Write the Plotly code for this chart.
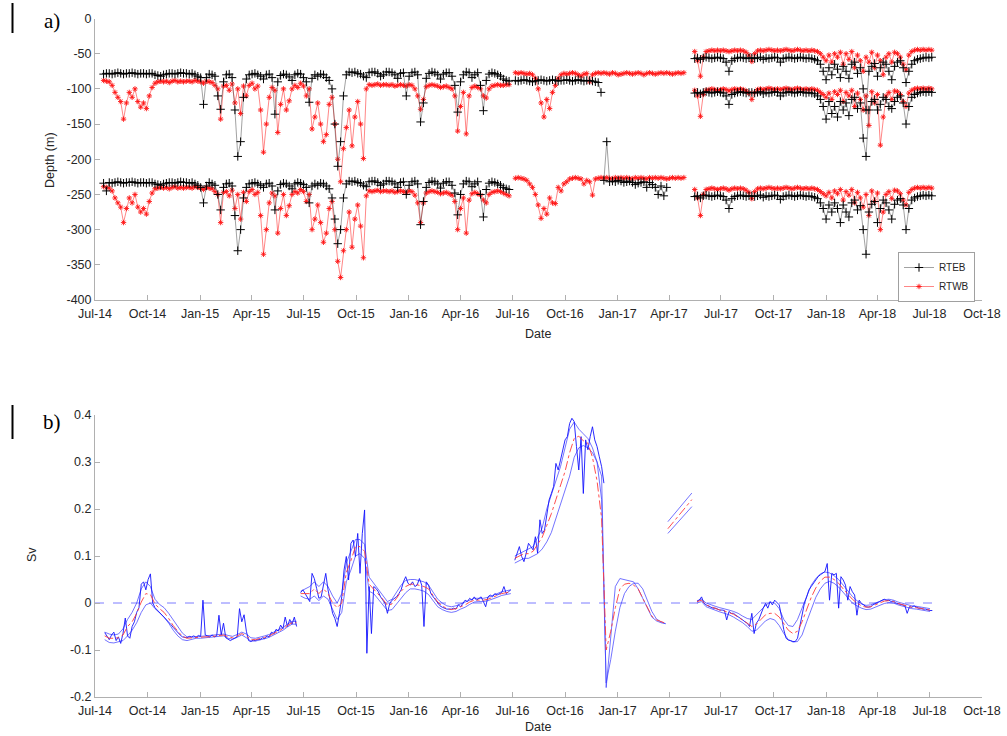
import pandas as pd
import plotly.graph_objects as go

# ---------------- data : panel a (depth, m) ----------------
# deployment 1, 5-day samples from 2014-07-16
D1_START = "2014-07-16"
rteb_up_d1 = [-79,-78,-78,-79,-78,-77,-78,-79,-78,-78,
 -77,-78,-79,-78,-78,-79,-78,-78,-80,-81,
 -82,-80,-79,-78,-78,-79,-78,-77,-78,-78,
 -79,-78,-80,-82,-84,-122,-84,-79,-80,-82,
 -110,-129,-90,-80,-79,-84,-130,-196,-175,-112,
 -86,-80,-79,-78,-80,-82,-86,-80,-79,-84,
 -136,-90,-81,-79,-80,-83,-88,-80,-78,-79,
 -84,-90,-119,-85,-80,-82,-79,-80,-84,-88,
 -100,-150,-210,-175,-110,-80,-76,-77,-76,-78,
 -79,-82,-84,-77,-76,-76,-78,-82,-80,-76,
 -76,-77,-80,-85,-78,-77,-110,-82,-77,-76,
 -80,-147,-120,-85,-78,-76,-77,-80,-86,-79,
 -77,-77,-82,-95,-133,-90,-80,-76,-77,-84,
 -80,-77,-95,-131,-88,-79,-77,-78,-80,-82,
 -86,-88,-89]
rtwb_up_d1 = [-88,-89,-90,-95,-105,-112,-118,-143,-120,-105,
 -112,-100,-118,-126,-120,-128,-110,-98,-92,-90,
 -89,-90,-89,-91,-89,-88,-90,-89,-90,-89,
 -89,-90,-88,-89,-90,-92,-89,-90,-91,-95,
 -100,-143,-96,-95,-102,-93,-120,-100,-135,-96,
 -110,-95,-92,-100,-96,-130,-190,-150,-112,-98,
 -102,-162,-122,-100,-130,-117,-100,-95,-98,-92,
 -96,-110,-100,-157,-140,-120,-150,-175,-165,-122,
 -112,-150,-200,-232,-185,-155,-130,-181,-140,-118,
 -150,-199,-100,-94,-95,-94,-93,-95,-94,-94,
 -95,-94,-96,-95,-94,-95,-96,-94,-95,-100,
 -110,-129,-115,-97,-95,-94,-95,-96,-98,-97,
 -96,-98,-100,-110,-160,-125,-105,-164,-110,-98,
 -96,-98,-100,-110,-113,-100,-96,-95,-94,-95,
 -95,-94,-94]
rteb_lo_d1 = [-234,-245,-233,-234,-233,-232,-233,-234,-233,-233,
 -232,-233,-234,-233,-233,-234,-233,-233,-235,-236,
 -237,-235,-234,-233,-233,-234,-233,-232,-233,-233,
 -234,-233,-235,-237,-240,-262,-238,-233,-235,-237,
 -250,-272,-240,-235,-234,-238,-280,-330,-300,-255,
 -240,-235,-234,-233,-235,-237,-240,-235,-234,-238,
 -272,-245,-236,-234,-235,-238,-242,-235,-233,-234,
 -236,-240,-262,-238,-235,-237,-234,-235,-238,-242,
 -255,-285,-320,-300,-255,-235,-231,-232,-231,-233,
 -234,-237,-239,-232,-231,-231,-233,-237,-235,-231,
 -231,-232,-235,-240,-233,-232,-250,-237,-232,-231,
 -235,-293,-260,-240,-233,-231,-232,-235,-241,-234,
 -232,-232,-237,-248,-279,-250,-235,-231,-232,-239,
 -235,-232,-250,-282,-243,-234,-232,-233,-235,-237,
 -240,-242,-243]
rtwb_lo_d1 = [-239,-240,-241,-245,-255,-262,-268,-290,-270,-255,
 -262,-250,-268,-275,-270,-278,-260,-248,-242,-241,
 -240,-241,-240,-242,-240,-239,-241,-240,-241,-240,
 -240,-241,-239,-240,-241,-243,-240,-241,-242,-246,
 -250,-290,-247,-246,-252,-244,-270,-250,-285,-247,
 -260,-246,-243,-250,-247,-280,-335,-300,-262,-248,
 -252,-305,-270,-250,-280,-266,-250,-246,-248,-243,
 -246,-260,-250,-300,-285,-265,-290,-318,-305,-270,
 -260,-300,-345,-368,-330,-300,-275,-325,-285,-265,
 -295,-340,-252,-245,-246,-245,-244,-246,-245,-245,
 -246,-245,-247,-246,-245,-246,-247,-245,-246,-251,
 -262,-290,-262,-248,-246,-245,-246,-247,-249,-248,
 -247,-249,-251,-260,-300,-270,-255,-305,-258,-249,
 -247,-249,-251,-258,-262,-250,-247,-246,-245,-246,
 -248,-250,-252]

# deployment 2, 5-day samples from 2016-07-06
D2_START = "2016-07-06"
rtwb_up_d2 = [-77,-78,-77,-78,-79,-78,-80,-85,-100,-120,
 -140,-115,-128,-105,-95,-85,-80,-78,-79,-78,
 -77,-78,-80,-82,-79,-78,-90,-80,-78,-77,
 -78,-77,-78,-79,-77,-78,-80,-79,-78,-77,
 -78,-79,-78,-77,-78,-80,-78,-77,-78,-79,
 -78,-77,-78,-77,-78,-79,-78,-77,-78,-77]
rteb_up_d2 = [-88,-89,-88,-87,-88,-89,-90,-89,-88,-87,
 -88,-89,-88,-87,-88,-89,-88,-88,-87,-88,
 -89,-88,-87,-88,-89,-88,-88,-89,-90,-91,-105]
rtwb_lo_d2 = [-227,-226,-227,-228,-230,-235,-240,-250,-265,-284,
 -270,-278,-255,-262,-263,-240,-245,-235,-232,-228,
 -227,-226,-227,-228,-235,-230,-232,-251,-228,-227,
 -226,-227,-226,-227,-228,-226,-227,-226,-227,-226,
 -227,-228,-226,-227,-226,-227,-228,-226,-227,-226,
 -227,-226,-227,-228,-227,-226,-227,-226,-227,-226]
D2_LO_EB_START = "2016-12-08"
rteb_lo_d2 = [-230,-175,-232,-231,-232,-230,-231,-233,-232,-231,
 -233,-236,-234,-233,-232,-240,-233,-236,-240,-250,
 -238,-252,-240]

# deployment 3, 5-day samples from 2017-05-16
D3_START = "2017-05-16"
rtwb_top_d3 = [-47,-60,-82,-55,-47,-46,-45,-46,-45,-46,
 -45,-46,-47,-46,-45,-46,-45,-46,-48,-52,
 -61,-50,-46,-45,-46,-45,-44,-45,-46,-45,
 -46,-45,-44,-45,-46,-45,-44,-45,-46,-45,
 -46,-45,-46,-47,-50,-55,-60,-52,-62,-50,
 -55,-48,-65,-50,-58,-47,-70,-52,-60,-75,
 -55,-62,-48,-70,-52,-60,-80,-55,-50,-62,
 -48,-50,-55,-65,-73,-52,-47,-45,-44,-45,
 -44,-45,-44,-45]
rteb_top_d3 = [-57,-56,-58,-56,-55,-56,-57,-56,-55,-56,
 -57,-62,-75,-60,-57,-56,-55,-56,-57,-56,
 -56,-57,-56,-55,-58,-56,-57,-56,-55,-56,
 -62,-57,-56,-55,-56,-57,-56,-55,-56,-57,
 -56,-57,-58,-60,-65,-75,-87,-70,-80,-65,
 -72,-84,-68,-75,-85,-65,-62,-78,-70,-100,
 -130,-75,-68,-64,-82,-70,-62,-65,-75,-87,
 -68,-62,-60,-70,-91,-75,-65,-60,-58,-57,
 -56,-55,-56,-55]
rtwb_mid_d3 = [-102,-110,-139,-108,-102,-101,-100,-101,-102,-101,
 -100,-101,-103,-101,-100,-101,-100,-101,-103,-106,
 -115,-105,-101,-100,-101,-100,-99,-100,-101,-100,
 -101,-100,-99,-100,-101,-100,-99,-100,-101,-100,
 -101,-100,-101,-102,-105,-108,-112,-106,-115,-104,
 -108,-102,-118,-105,-110,-102,-125,-106,-115,-130,
 -110,-152,-104,-120,-108,-180,-140,-110,-105,-115,
 -103,-104,-108,-118,-125,-106,-102,-100,-99,-100,
 -99,-100,-99,-100]
rteb_mid_d3 = [-106,-105,-107,-105,-104,-105,-106,-105,-104,-105,
 -106,-110,-122,-108,-106,-105,-104,-105,-106,-105,
 -105,-106,-105,-104,-107,-105,-106,-105,-104,-105,
 -110,-106,-105,-104,-105,-106,-105,-104,-105,-106,
 -105,-106,-107,-110,-115,-125,-143,-118,-135,-125,
 -140,-118,-130,-120,-138,-115,-112,-128,-120,-170,
 -196,-130,-118,-115,-130,-122,-112,-115,-125,-128,
 -118,-112,-110,-120,-150,-125,-112,-108,-106,-105,
 -104,-105,-104,-105]
rtwb_lo_d3 = [-243,-255,-280,-250,-243,-242,-241,-242,-243,-242,
 -241,-242,-244,-242,-241,-242,-241,-242,-244,-247,
 -256,-246,-242,-241,-242,-241,-240,-241,-242,-241,
 -242,-241,-240,-241,-242,-241,-240,-241,-242,-241,
 -242,-241,-242,-243,-246,-249,-252,-247,-255,-245,
 -249,-243,-258,-246,-251,-243,-262,-247,-255,-268,
 -250,-280,-245,-260,-248,-300,-275,-250,-246,-256,
 -244,-245,-249,-258,-265,-247,-243,-241,-240,-241,
 -240,-241,-240,-241]
rteb_lo_d3 = [-253,-252,-255,-252,-251,-252,-253,-252,-251,-252,
 -253,-258,-270,-256,-253,-252,-251,-252,-253,-252,
 -252,-253,-252,-251,-254,-252,-253,-252,-251,-252,
 -257,-253,-252,-251,-252,-253,-252,-251,-252,-253,
 -252,-253,-254,-256,-262,-270,-285,-265,-275,-262,
 -270,-290,-265,-275,-282,-262,-258,-272,-266,-300,
 -335,-275,-264,-260,-290,-270,-258,-262,-272,-285,
 -264,-258,-256,-265,-300,-270,-258,-255,-253,-252,
 -251,-252,-251,-252]

# ---------------- data : panel b (transport, Sv) ----------------
# raw series, 4-day samples
raw_starts = ["2014-07-18", "2015-06-26", "2016-07-05", "2017-05-20"]
raw_1 = [-0.063,-0.072,-0.078,-0.068,-0.062,-0.08,-0.072,-0.086,-0.065,-0.032,
 -0.07,-0.075,-0.05,-0.04,-0.02,-0.01,0.04,0.045,0.028,0.05,
 0.062,0.0,-0.01,-0.015,-0.02,-0.024,-0.03,-0.036,-0.04,-0.046,
 -0.052,-0.058,-0.064,-0.068,-0.072,-0.073,-0.074,-0.071,-0.072,-0.07,
 -0.073,-0.069,-0.071,0.006,-0.068,-0.07,-0.072,-0.068,-0.072,-0.07,
 -0.026,-0.068,-0.043,-0.074,-0.078,-0.08,-0.077,-0.075,-0.072,-0.012,
 -0.04,-0.025,-0.06,-0.08,-0.082,-0.079,-0.08,-0.077,-0.078,-0.074,
 -0.076,-0.07,-0.072,-0.062,-0.066,-0.056,-0.06,-0.047,-0.055,-0.03,
 -0.05,-0.035,-0.045,-0.03,-0.05]
raw_2 = [0.022,0.028,0.02,0.01,0.003,0.063,0.052,0.031,0.01,0.013,
 0.042,0.063,0.028,0.003,-0.022,-0.033,-0.05,-0.022,0.013,0.07,
 0.099,0.049,0.127,0.134,0.099,0.148,0.063,0.148,0.198,-0.107,
 0.035,-0.065,0.035,0.031,0.024,0.013,0.006,-0.001,-0.022,-0.001,
 0.006,0.01,0.013,0.02,0.028,0.045,0.056,0.042,0.038,0.045,
 0.035,0.038,0.052,0.038,-0.05,0.045,0.038,0.02,0.013,0.006,
 -0.001,-0.006,-0.009,-0.011,-0.013,-0.013,-0.013,-0.011,-0.013,-0.004,
 -0.008,-0.001,0.006,0.003,0.01,0.006,0.013,0.006,0.01,0.013,
 0.003,-0.008,0.013,0.017,0.013,0.02,0.017,0.02,0.022,0.035,
 0.02,0.024,0.028]
raw_3 = [0.091,0.106,0.12,0.099,0.088,0.106,0.127,0.12,0.113,0.141,
 0.106,0.177,0.148,0.155,0.191,0.219,0.233,0.248,0.297,0.283,
 0.304,0.326,0.347,0.354,0.382,0.393,0.386,0.333,0.283,0.354,
 0.233,0.347,0.326,0.354,0.375,0.347,0.333,0.311,0.29,0.255]
raw_5 = [0.003,0.006,0.013,0.0,-0.004,-0.006,-0.008,-0.011,-0.011,-0.013,
 -0.015,-0.015,-0.016,-0.036,-0.018,-0.022,-0.022,-0.026,-0.029,-0.033,
 -0.036,-0.04,-0.043,-0.05,-0.022,-0.065,-0.043,-0.036,-0.022,-0.011,
 -0.001,-0.011,0.003,-0.004,0.006,0.0,-0.004,-0.029,-0.057,-0.075,
 -0.079,-0.08,-0.082,-0.082,-0.075,-0.05,-0.022,-0.001,0.013,0.028,
 0.035,0.043,0.049,0.056,0.06,0.063,0.067,0.084,0.006,0.063,
 0.06,0.063,-0.011,0.056,0.049,0.038,0.006,0.035,0.024,0.017,
 -0.026,0.006,-0.001,-0.004,-0.008,-0.009,-0.008,-0.004,-0.002,0.0,
 0.003,0.006,0.008,0.005,0.006,0.003,0.004,0.0,-0.001,-0.002,
 -0.004,-0.006,-0.022,-0.008,-0.009,-0.006,-0.009,-0.011,-0.011,-0.013,
 -0.013,-0.015,-0.016,-0.016]
raw_values = [raw_1, raw_2, raw_3, raw_5]

# smoothed series and bounds, 8-day samples (last short piece: 14-day)
smooth_starts = ["2014-07-18", "2015-06-26", "2016-07-05", "2017-03-30", "2017-05-20"]
smooth_steps = [8, 8, 8, 14, 8]
mean_1 = [-0.07,-0.075,-0.075,-0.074,-0.068,-0.05,-0.04,-0.022,0.002,0.02,
 0.018,-0.002,-0.012,-0.02,-0.033,-0.048,-0.06,-0.071,-0.075,-0.074,
 -0.073,-0.073,-0.072,-0.072,-0.071,-0.07,-0.068,-0.072,-0.074,-0.07,
 -0.065,-0.07,-0.078,-0.078,-0.076,-0.073,-0.07,-0.065,-0.06,-0.055,
 -0.048,-0.042,-0.042]
upper_1 = [-0.062,-0.066,-0.068,-0.066,-0.055,-0.035,-0.02,0.0,0.03,0.045,
 0.035,0.008,-0.003,-0.01,-0.022,-0.036,-0.05,-0.064,-0.072,-0.073,
 -0.072,-0.071,-0.07,-0.07,-0.069,-0.068,-0.066,-0.069,-0.071,-0.067,
 -0.062,-0.066,-0.074,-0.075,-0.073,-0.07,-0.067,-0.062,-0.057,-0.052,
 -0.045,-0.039,-0.039]
lower_1 = [-0.078,-0.084,-0.085,-0.083,-0.08,-0.07,-0.058,-0.042,-0.02,-0.004,
 0.0,-0.012,-0.02,-0.03,-0.043,-0.058,-0.07,-0.078,-0.08,-0.077,
 -0.075,-0.075,-0.074,-0.074,-0.073,-0.072,-0.07,-0.075,-0.077,-0.073,
 -0.068,-0.074,-0.081,-0.081,-0.079,-0.076,-0.073,-0.068,-0.063,-0.058,
 -0.051,-0.045,-0.045]
mean_2 = [0.02,0.02,0.02,0.03,0.02,0.03,0.02,0.0,-0.01,0.0,
 0.065,0.09,0.12,0.12,0.11,0.04,0.03,0.02,0.008,-0.005,
 -0.002,0.01,0.025,0.035,0.04,0.04,0.038,0.035,0.03,0.015,
 0.002,-0.006,-0.012,-0.014,-0.012,-0.008,-0.004,0.002,0.006,0.006,
 0.006,0.008,0.012,0.016,0.02,0.022,0.024]
upper_2 = [0.025,0.03,0.035,0.045,0.035,0.045,0.035,0.015,0.0,0.02,
 0.085,0.11,0.135,0.135,0.125,0.055,0.042,0.03,0.016,0.003,
 0.008,0.022,0.038,0.048,0.05,0.05,0.048,0.045,0.038,0.022,
 0.008,0.0,-0.006,-0.008,-0.006,-0.002,0.002,0.007,0.01,0.01,
 0.01,0.012,0.016,0.02,0.024,0.026,0.028]
lower_2 = [0.015,0.01,0.008,0.015,0.005,0.015,0.008,-0.015,-0.035,-0.02,
 0.045,0.07,0.1,0.105,0.095,0.025,0.02,0.008,-0.004,-0.016,
 -0.014,-0.002,0.012,0.022,0.03,0.03,0.028,0.025,0.018,0.004,
 -0.008,-0.014,-0.018,-0.02,-0.018,-0.013,-0.009,-0.003,0.002,0.003,
 0.003,0.005,0.008,0.012,0.016,0.018,0.02]
mean_3 = [0.095,0.1,0.105,0.105,0.11,0.125,0.14,0.165,0.19,0.22,
 0.25,0.28,0.32,0.35,0.355,0.345,0.34,0.31,0.26,0.18,
 -0.1,-0.06,-0.01,0.03,0.04,0.042,0.038,0.03,0.01,-0.01,
 -0.028,-0.036,-0.04,-0.043]
upper_3 = [0.1,0.105,0.11,0.115,0.12,0.14,0.16,0.2,0.23,0.26,
 0.29,0.33,0.37,0.385,0.37,0.36,0.35,0.33,0.3,0.27,
 -0.18,-0.08,0.035,0.052,0.05,0.048,0.045,0.03,0.01,-0.012,
 -0.03,-0.038,-0.042,-0.044]
lower_3 = [0.085,0.09,0.095,0.095,0.1,0.105,0.115,0.13,0.15,0.18,
 0.21,0.24,0.27,0.31,0.33,0.335,0.33,0.32,0.3,0.22,
 -0.17,-0.12,-0.06,-0.01,0.02,0.035,0.042,0.042,0.03,0.006,
 -0.018,-0.034,-0.04,-0.044]
mean_4 = [0.158,0.178,0.199,0.22]
upper_4 = [0.173,0.193,0.213,0.234]
lower_4 = [0.148,0.167,0.186,0.205]
mean_5 = [0.003,0.006,-0.004,-0.008,-0.011,-0.015,-0.017,-0.02,-0.024,-0.03,
 -0.036,-0.043,-0.05,-0.045,-0.035,-0.025,-0.022,-0.022,-0.03,-0.045,
 -0.058,-0.065,-0.06,-0.04,-0.012,0.012,0.032,0.047,0.055,0.055,
 0.05,0.042,0.03,0.018,0.008,0.0,-0.006,-0.009,-0.008,-0.004,
 0.0,0.004,0.005,0.003,-0.001,-0.004,-0.007,-0.009,-0.01,-0.012,
 -0.013,-0.015]
upper_5 = [0.005,0.008,0.0,-0.004,-0.007,-0.01,-0.012,-0.015,-0.018,-0.022,
 -0.028,-0.033,-0.035,-0.025,-0.015,-0.005,0.002,0.0,-0.012,-0.035,
 -0.048,-0.05,-0.035,-0.01,0.015,0.038,0.052,0.062,0.066,0.064,
 0.058,0.05,0.038,0.025,0.014,0.005,-0.002,-0.005,-0.004,0.0,
 0.004,0.007,0.008,0.006,0.002,-0.001,-0.004,-0.006,-0.007,-0.009,
 -0.01,-0.012]
lower_5 = [0.0,0.003,-0.008,-0.012,-0.015,-0.019,-0.022,-0.025,-0.03,-0.036,
 -0.042,-0.05,-0.06,-0.058,-0.048,-0.038,-0.033,-0.036,-0.048,-0.065,
 -0.078,-0.083,-0.082,-0.068,-0.04,-0.012,0.012,0.03,0.042,0.046,
 0.042,0.034,0.022,0.01,0.0,-0.006,-0.011,-0.014,-0.013,-0.009,
 -0.005,-0.001,0.001,0.0,-0.004,-0.007,-0.01,-0.012,-0.013,-0.015,
 -0.016,-0.018]
mean_values = [mean_1, mean_2, mean_3, mean_4, mean_5]
upper_values = [upper_1, upper_2, upper_3, upper_4, upper_5]
lower_values = [lower_1, lower_2, lower_3, lower_4, lower_5]

zero_line_x = ["2014-07-01", "2018-07-08"]
zero_line_y = [0, 0]

# ---------------- ticks ----------------
tick_dates = ["2014-07-01","2014-10-01","2015-01-01","2015-04-01","2015-07-01","2015-10-01",
              "2016-01-01","2016-04-01","2016-07-01","2016-10-01","2017-01-01","2017-04-01",
              "2017-07-01","2017-10-01","2018-01-01","2018-04-01","2018-07-01","2018-10-01"]
tick_labels = ["Jul-14","Oct-14","Jan-15","Apr-15","Jul-15","Oct-15","Jan-16","Apr-16",
               "Jul-16","Oct-16","Jan-17","Apr-17","Jul-17","Oct-17","Jan-18","Apr-18",
               "Jul-18","Oct-18"]
depth_ticks = [0,-50,-100,-150,-200,-250,-300,-350,-400]
sv_ticks = [0.4,0.3,0.2,0.1,0,-0.1,-0.2]
sv_tick_labels = ["0.4","0.3","0.2","0.1","0","-0.1","-0.2"]


def grid(start, step, n):
    return pd.date_range(start, periods=n, freq=f"{step}D")


fig = go.Figure()

BLACK_LINE = "rgba(60,60,60,0.8)"
BLACK_MK = dict(symbol="cross-thin", size=6, line=dict(width=1, color="black"), color="black")
RED_LINE = "rgba(255,0,0,0.8)"
RED_MK = dict(symbol="asterisk", size=4.5, line=dict(width=0.9, color="rgb(255,20,20)"), color="red")

eb_series = [(D1_START, rteb_up_d1), (D1_START, rteb_lo_d1), (D2_START, rteb_up_d2),
             (D2_LO_EB_START, rteb_lo_d2), (D3_START, rteb_top_d3), (D3_START, rteb_mid_d3),
             (D3_START, rteb_lo_d3)]
wb_series = [(D1_START, rtwb_up_d1), (D1_START, rtwb_lo_d1), (D2_START, rtwb_up_d2),
             (D2_START, rtwb_lo_d2), (D3_START, rtwb_top_d3), (D3_START, rtwb_mid_d3),
             (D3_START, rtwb_lo_d3)]

for k, (st, vals) in enumerate(wb_series):
    fig.add_trace(go.Scatter(x=grid(st, 5, len(vals)), y=vals, mode="lines+markers",
                             line=dict(color=RED_LINE, width=0.6), marker=RED_MK,
                             name="RTWB", showlegend=(k == 0),
                             legendrank=2, xaxis="x", yaxis="y"))
for k, (st, vals) in enumerate(eb_series):
    fig.add_trace(go.Scatter(x=grid(st, 5, len(vals)), y=vals, mode="lines+markers",
                             line=dict(color=BLACK_LINE, width=0.6), marker=BLACK_MK,
                             name="RTEB", showlegend=(k == 0),
                             legendrank=1, xaxis="x", yaxis="y"))

# panel b
fig.add_trace(go.Scatter(x=zero_line_x, y=zero_line_y, mode="lines",
                         line=dict(color="rgb(110,110,255)", width=0.9, dash="dash"),
                         showlegend=False, xaxis="x2", yaxis="y2"))
for st, stp, up, lo in zip(smooth_starts, smooth_steps, upper_values, lower_values):
    for vals in (up, lo):
        fig.add_trace(go.Scatter(x=grid(st, stp, len(vals)), y=vals, mode="lines",
                                 line=dict(color="rgba(60,60,255,0.8)", width=0.9),
                                 showlegend=False, xaxis="x2", yaxis="y2"))
for st, vals in zip(raw_starts, raw_values):
    fig.add_trace(go.Scatter(x=grid(st, 4, len(vals)), y=vals, mode="lines",
                             line=dict(color="rgba(20,20,255,0.9)", width=1),
                             showlegend=False, xaxis="x2", yaxis="y2"))
for st, stp, vals in zip(smooth_starts, smooth_steps, mean_values):
    fig.add_trace(go.Scatter(x=grid(st, stp, len(vals)), y=vals, mode="lines",
                             line=dict(color="rgba(255,60,60,0.9)", width=1, dash="dashdot"),
                             showlegend=False, xaxis="x2", yaxis="y2"))

W, H = 1007, 736
FONT = "Liberation Sans, Arial, sans-serif"
AX = dict(showline=True, linecolor="#b0b0b0", linewidth=1, ticks="inside", ticklen=5,
          tickcolor="#b0b0b0", showgrid=False, zeroline=False, automargin=False,
          tickfont=dict(family=FONT, size=12.5, color="#262626"))
XAX = dict(AX, ticklabelstandoff=2)
xdom = [95 / W, 982 / W]

fig.update_layout(
    width=W, height=H, margin=dict(l=0, r=0, t=0, b=0, autoexpand=False),
    paper_bgcolor="white", plot_bgcolor="white",
    xaxis=dict(domain=xdom, anchor="y", type="date", range=["2014-07-01", "2018-10-01"],
               tickvals=tick_dates, ticktext=tick_labels, **XAX),
    yaxis=dict(domain=[1 - 300 / H, 1 - 18.5 / H], anchor="x", range=[-400, 0],
               tickvals=depth_ticks, ticktext=[str(v) for v in depth_ticks], **AX),
    xaxis2=dict(domain=xdom, anchor="y2", type="date", range=["2014-07-01", "2018-10-01"],
                tickvals=tick_dates, ticktext=tick_labels, **XAX),
    yaxis2=dict(domain=[1 - 697 / H, 1 - 415 / H], anchor="x2", range=[-0.2, 0.4],
                tickvals=sv_ticks, ticktext=sv_tick_labels, **AX),
    legend=dict(x=898 / W, y=1 - 252 / H, xanchor="left", yanchor="top",
                bgcolor="white", bordercolor="#a0a0a0", borderwidth=1,
                font=dict(family=FONT, size=10, color="#262626"),
                itemwidth=30, tracegroupgap=0, traceorder="normal"),
    showlegend=True,
)

ann = [
    dict(text="a)", x=52 / W, y=1 - 21 / H, font=dict(family="Liberation Serif, Times New Roman, serif", size=21, color="black")),
    dict(text="b)", x=52 / W, y=1 - 422 / H, font=dict(family="Liberation Serif, Times New Roman, serif", size=21, color="black")),
    dict(text="Depth (m)", x=50 / W, y=1 - 160 / H, textangle=-90, font=dict(family=FONT, size=12.5, color="#262626")),
    dict(text="Sv", x=32 / W, y=1 - 555 / H, textangle=-90, font=dict(family=FONT, size=12.5, color="#262626")),
    dict(text="Date", x=538 / W, y=1 - 334 / H, font=dict(family=FONT, size=12.5, color="#262626")),
    dict(text="Date", x=538 / W, y=1 - 727 / H, font=dict(family=FONT, size=12.5, color="#262626")),
]
for a in ann:
    fig.add_annotation(xref="paper", yref="paper", showarrow=False, xanchor="center", yanchor="middle", **a)

for y0, y1 in [(3, 33), (405, 439)]:
    fig.add_shape(type="line", xref="paper", yref="paper", x0=12.5 / W, x1=12.5 / W,
                  y0=1 - y0 / H, y1=1 - y1 / H, line=dict(color="black", width=2))

fig.write_html("out.html", config={"displayModeBar": False},
               post_script="document.body.style.margin='0px';")
